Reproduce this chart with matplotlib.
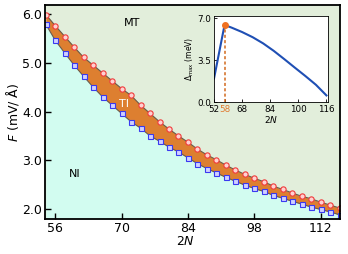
import numpy as np
import matplotlib
matplotlib.use("Agg")
import matplotlib.pyplot as plt

# --- data ---
two_n = np.arange(54, 117, 2)
# upper boundary (TI -> MT), red circles
f_upper = [5.99, 5.76, 5.54, 5.32, 5.11, 4.95, 4.79, 4.63, 4.47, 4.33,
           4.13, 3.96, 3.79, 3.64, 3.50, 3.37, 3.23, 3.11, 3.01, 2.90,
           2.80, 2.71, 2.63, 2.56, 2.47, 2.40, 2.33, 2.26, 2.21, 2.14,
           2.08, 2.02]
# lower boundary (NI -> TI), blue squares
f_lower = [5.79, 5.46, 5.20, 4.95, 4.72, 4.50, 4.30, 4.13, 3.96, 3.79,
           3.66, 3.50, 3.39, 3.27, 3.17, 3.05, 2.93, 2.83, 2.74, 2.65,
           2.57, 2.49, 2.42, 2.36, 2.28, 2.22, 2.16, 2.10, 2.04, 1.99,
           1.94, 1.88]

# inset: max gap vs 2N
inset_n = [52, 58, 62, 68, 74, 80, 86, 92, 98, 104, 110, 116]
inset_gap = [1.97, 6.44, 6.22, 5.85, 5.42, 4.90, 4.28, 3.59, 2.88, 2.18, 1.45, 0.56]
peak_n, peak_gap = 58, 6.44

C_MT = "#e2eedb"
C_NI = "#d2fcf0"
C_TI = "#dd7f30"

fig = plt.figure(figsize=(3.48, 2.54), dpi=100)
ax = fig.add_axes([0.129, 0.138, 0.848, 0.842])

ymin, ymax = 1.795, 6.185
ax.set_facecolor(C_MT)
ax.fill_between(two_n, ymin, f_lower, color=C_NI, lw=0)
ax.fill_between(two_n, f_lower, f_upper, color=C_TI, lw=0)
ax.plot(two_n, f_upper, color="#6a5a4a", lw=0.8)
ax.plot(two_n, f_lower, color="#6a5a4a", lw=0.8)
ax.plot(two_n, f_upper, "o", ms=3.8, mfc="#ffd0d0", mec="#f03a3a", mew=0.8)
ax.plot(two_n, f_lower, "s", ms=3.6, mfc="#d0d0ff", mec="#3a3af0", mew=0.8)

ax.set_xlim(53.8, 116.1)
ax.set_ylim(ymin, ymax)
ax.set_xticks([56, 70, 84, 98, 112])
ax.set_yticks([2.0, 3.0, 4.0, 5.0, 6.0])
ax.set_yticklabels(["2.0", "3.0", "4.0", "5.0", "6.0"])
ax.tick_params(direction="in", labelsize=9, length=4, width=1, pad=2)
for s in ax.spines.values():
    s.set_linewidth(1.3)
ax.set_xlabel("2$N$", fontsize=9)
ax.xaxis.set_label_coords(0.478, -0.075)
ax.set_ylabel("$F$ (mV/ Å)", fontsize=9, labelpad=1)

ax.text(72.3, 5.82, "MT", fontsize=8, ha="center", va="center")
ax.text(70.5, 4.15, "TI", fontsize=8, color="white", ha="center", va="center")
ax.text(60.0, 2.72, "NI", fontsize=8, ha="center", va="center")

# inset
ins = fig.add_axes([0.615, 0.598, 0.328, 0.339])
ins.set_facecolor("white")
ins.plot(inset_n, inset_gap, color="#1f4fb4", lw=1.5)
ins.plot([peak_n, peak_n], [0, peak_gap], ls=(0, (2, 1.5)), color="#d2691e", lw=1.1)
ins.plot(peak_n, peak_gap, "o", color="#f07020", ms=4, zorder=5)
ins.set_xlim(52, 117)
ins.set_ylim(0, 7.19)
ins.set_xticks([52, 58, 68, 84, 100, 116])
ins.set_yticks([0.0, 3.5, 7.0])
ins.set_yticklabels(["0.0", "3.5", "7.0"])
ins.tick_params(direction="in", labelsize=6.3, length=2, width=0.6, pad=2)
ins.get_xticklabels()[1].set_color("#e07a30")
for s in ins.spines.values():
    s.set_linewidth(0.6)
ins.set_xlabel("2$N$", fontsize=6.5, labelpad=0)
ins.set_ylabel(r"$\Delta_{\rm max}$ (meV)", fontsize=5.5, labelpad=1)

fig.savefig("out.png", dpi=100)
